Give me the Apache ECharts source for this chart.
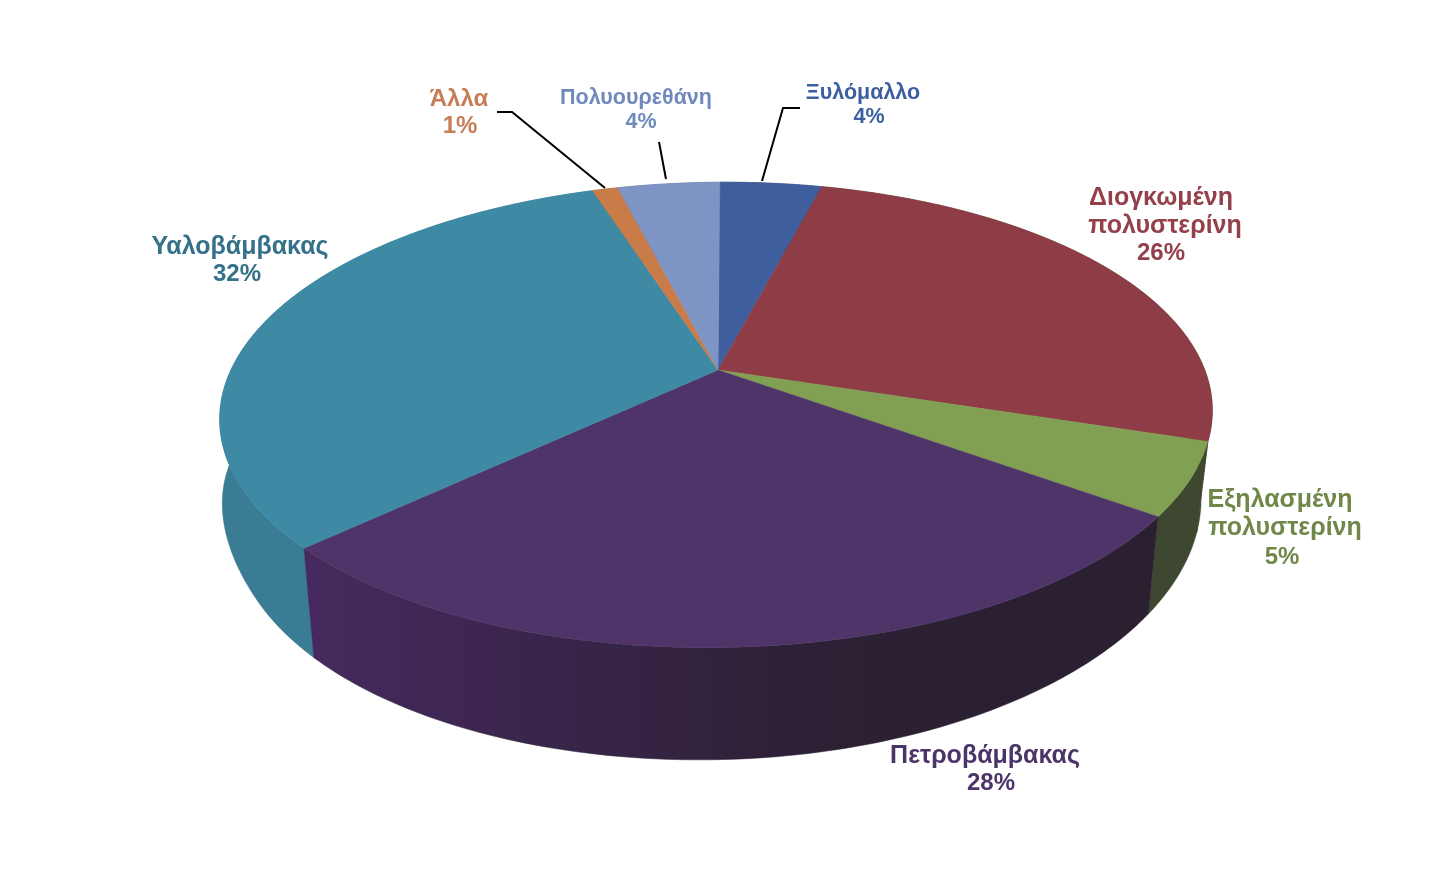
<!DOCTYPE html>
<html><head><meta charset="utf-8">
<style>html,body{margin:0;padding:0;background:#fff}#c{width:1440px;height:881px}</style>
<script src="https://cdn.jsdelivr.net/npm/echarts@6/dist/echarts.min.js"></script>
</head><body><div id="c"></div>
<script>
const categories = ['Ξυλόμαλλο','Διογκωμένη πολυστερίνη','Εξηλασμένη πολυστερίνη','Πετροβάμβακας','Υαλοβάμβακας','Άλλα','Πολυουρεθάνη'];
const values = [4,26,5,28,32,1,4];
const topColors = ['#3f5e9e','#8e3c45','#81a053','#4e3468','#3e89a4','#c97b48','#7d94c5'];
const wallColors = ['#33486f','#3e4730','#3e4730','#3a2650','#3a7c93','#8a5a38','#5c6d90'];
const labelColors = ['#3c5f9f','#94404a','#6f8748','#4a3468','#34708a','#c77d55','#7089bd'];

// projection of the pie disc (perspective tilt)
const P = {apexX:718, k:0.193, rot:0.0015,
  top:{cx:716, cy:370, A:487, B:224, s:0.009, bulge:0, trim:0},
  bot:{cx:720, cy:461, A:480, B:241, s:0.0216, bulge:14, trim:8}};
function project(frac, face){
  const t = (frac+P.rot)*2*Math.PI, x = Math.sin(t), y = -Math.cos(t), w = 1-P.k*y;
  let A = face.A;
  if(x<0 && face.bulge){
    const u = Math.min(1,Math.max(0,(0.5-y)/0.6));
    A += face.bulge*u*u*(3-2*u);
  }
  if(x>0) A -= face.trim;
  const X = A*x/w, Y = face.cy + face.B*y/w - face.s*X;
  return [face.cx+X, Y];
}
const total = values.reduce((a,b)=>a+b,0);
let acc = 0;
const slices = values.map((v,i)=>{const s=acc/total; acc+=v; return [s,acc/total,i];});
function arc(s,e,face){
  const n=Math.max(2,Math.ceil((e-s)*360)), pts=[];
  for(let j=0;j<=n;j++) pts.push(project(s+(e-s)*j/n,face));
  return pts;
}
function wallFill(i){
  if(i===3) return {type:'linear',x:0,y:0,x2:1,y2:0,colorStops:[
    {offset:0,color:'#47295f'},{offset:0.3,color:'#38254a'},{offset:0.6,color:'#2c2034'},{offset:1,color:'#2a2030'}]};
  return wallColors[i];
}
function renderWall(p,api){
  const s=api.value(0),e=api.value(1),i=api.value(2);
  const pts=arc(s,e,P.top).concat(arc(s,e,P.bot).reverse());
  const c=wallFill(i);
  return {type:'polygon',shape:{points:pts},style:{fill:c,stroke:i===3?'#2e2238':c,lineWidth:0.5}};
}
function renderTop(p,api){
  const s=api.value(0),e=api.value(1),i=api.value(2);
  const pts=[[P.apexX,P.top.cy]].concat(arc(s,e,P.top));
  return {type:'polygon',shape:{points:pts},style:{fill:topColors[i],stroke:topColors[i],lineWidth:0.5}};
}
// wall painter order: front slices last
const wallOrder=[0,6,5,1,4,2,3].map(i=>slices[i]);

const pct=i=>values[i]+'%';
const labels=[
 {i:5,lines:[['Άλλα',459,99,24],[pct(5),460,126,24]]},
 {i:6,lines:[['Πολυουρεθάνη',636,98,21.5],[pct(6),641,122,21.5]]},
 {i:0,lines:[['Ξυλόμαλλο',863,93,21.5],[pct(0),869,117,21.5]]},
 {i:1,lines:[['Διογκωμένη',1161,198,25],['πολυστερίνη',1165,226,25],[pct(1),1161,253,24]]},
 {i:2,lines:[['Εξηλασμένη',1280,500,25],['πολυστερίνη',1285,528,25],[pct(2),1282,557,24]]},
 {i:3,lines:[['Πετροβάμβακας',985,756,25],[pct(3),991,783,24]]},
 {i:4,lines:[['Υαλοβάμβακας',240,247,25],[pct(4),237,274,24]]}
];
const leaders=[
 [[497,112],[512,112],[605,188]],
 [[659,142],[666,179]],
 [[800,108],[783,108],[762,181]]
];
const graphics=[];
labels.forEach(l=>l.lines.forEach(t=>graphics.push({type:'text',z:10,x:t[1],y:t[2],
  style:{text:t[0],fill:labelColors[l.i],font:'bold '+t[3]+'px "Liberation Sans", Arial, sans-serif',align:'center',verticalAlign:'middle'}})));
leaders.forEach(pts=>graphics.push({type:'polyline',z:10,shape:{points:pts},style:{stroke:'#000',lineWidth:2,fill:'none'}}));

const chart=echarts.init(document.getElementById('c'));
chart.setOption({
  animation:false,
  backgroundColor:'#fff',
  tooltip:{show:false},
  graphic:graphics,
  series:[
    {type:'custom',coordinateSystem:'none',renderItem:renderWall,data:wallOrder,z:1,silent:true},
    {type:'custom',coordinateSystem:'none',renderItem:renderTop,data:slices,z:2,silent:true}
  ]
});
</script></body></html>
